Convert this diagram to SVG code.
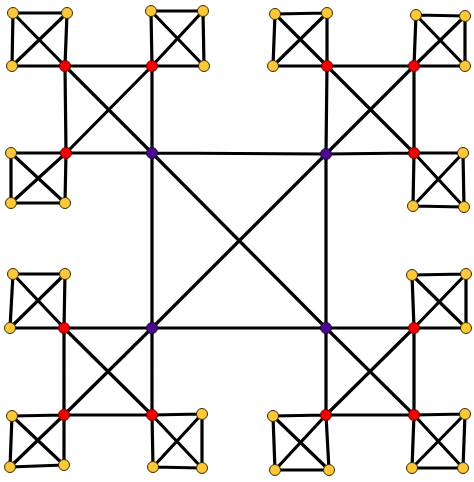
<svg xmlns="http://www.w3.org/2000/svg" width="474" height="482" viewBox="0 0 474 482">
<style>
.e{stroke:#000;stroke-width:3.2;stroke-linecap:round;fill:none}
.y{fill:#fcc83a;stroke:#3a2a00;stroke-width:1}
.r{fill:#f50000;stroke:#6a0000;stroke-width:1}
.p{fill:#4b0a8c;stroke:#200040;stroke-width:1}
</style>
<rect width="474" height="482" fill="#fff"/>
<g id="connectors" class="e">
<!-- central K4 -->
<path d="M152,153L326,154M152,153L152,328M326,154L326,328M152,328L326,328M152,153L326,328M326,154L152,328"/>
<!-- TL inner K4 -->
<path d="M65,66L152,66M65,66L66,153M152,66L152,153M66,153L152,153M65,66L152,153M152,66L66,153"/>
<!-- TL squares -->
<path d="M13,13L67,13M13,13L12,66M67,13L65,66M12,66L65,66M13,13L65,66M67,13L12,66"/>
<path d="M151,11L203,11M151,11L152,66M203,11L204,66M152,66L204,66M151,11L204,66M203,11L152,66"/>
<path d="M11,153L66,153M11,153L11,203M66,153L65,203M11,203L65,203M11,153L65,203M66,153L11,203"/>
<!-- TR inner K4 -->
<path d="M327,66L414,66M327,66L326,154M414,66L414,153M326,154L414,153M327,66L414,153M414,66L326,154"/>
<!-- TR squares -->
<path d="M275,14L327,13M275,14L273,66M327,13L327,66M273,66L327,66M275,14L327,66M327,13L273,66"/>
<path d="M416,15L465,16M416,15L414,66M465,16L465,66M414,66L465,66M416,15L465,66M465,16L414,66"/>
<path d="M414,153L463,153M414,153L413,206M463,153L464,207M413,206L464,207M414,153L464,207M463,153L413,206"/>
<!-- BL inner K4 -->
<path d="M64,328L152,328M64,328L64,415M152,328L152,415M64,415L152,415M64,328L152,415M152,328L64,415"/>
<!-- BL squares -->
<path d="M13,274L65,274M13,274L10,328M65,274L64,328M10,328L64,328M13,274L64,328M65,274L10,328"/>
<path d="M12,416L64,415M12,416L10,467M64,415L64,465M10,467L64,465M12,416L64,465M64,415L10,467"/>
<path d="M152,415L202,414M152,415L153,467M202,414L202,468M153,467L202,468M152,415L202,468M202,414L153,467"/>
<!-- BR inner K4 -->
<path d="M326,328L414,328M326,328L326,415M414,328L414,415M326,415L414,415M326,328L414,415M414,328L326,415"/>
<!-- BR squares -->
<path d="M412,275L466,274M412,275L414,328M466,274L466,328M414,328L466,328M412,275L466,328M466,274L414,328"/>
<path d="M273,416L326,415M273,416L275,470M326,415L329,470M275,470L329,470M273,416L329,470M326,415L275,470"/>
<path d="M414,415L465,414M414,415L412,468M465,414L463,468M412,468L463,468M414,415L463,468M465,414L412,468"/>
</g>
<g id="purple-nodes">
<circle id="p1" class="p" cx="152" cy="153" r="5.5"/>
<circle id="p2" class="p" cx="326" cy="154" r="5.5"/>
<circle id="p3" class="p" cx="152" cy="328" r="5.5"/>
<circle id="p4" class="p" cx="326" cy="328" r="5.5"/>
</g>
<g id="red-nodes">
<circle id="r1" class="r" cx="65" cy="66" r="5.5"/>
<circle id="r2" class="r" cx="152" cy="66" r="5.5"/>
<circle id="r3" class="r" cx="66" cy="153" r="5.5"/>
<circle id="r4" class="r" cx="327" cy="66" r="5.5"/>
<circle id="r5" class="r" cx="414" cy="66" r="5.5"/>
<circle id="r6" class="r" cx="414" cy="153" r="5.5"/>
<circle id="r7" class="r" cx="64" cy="328" r="5.5"/>
<circle id="r8" class="r" cx="64" cy="415" r="5.5"/>
<circle id="r9" class="r" cx="152" cy="415" r="5.5"/>
<circle id="r10" class="r" cx="414" cy="328" r="5.5"/>
<circle id="r11" class="r" cx="326" cy="415" r="5.5"/>
<circle id="r12" class="r" cx="414" cy="415" r="5.5"/>
</g>
<g id="yellow-nodes">
<circle id="y1" class="y" cx="13" cy="13" r="5.5"/>
<circle id="y2" class="y" cx="67" cy="13" r="5.5"/>
<circle id="y3" class="y" cx="12" cy="66" r="5.5"/>
<circle id="y4" class="y" cx="151" cy="11" r="5.5"/>
<circle id="y5" class="y" cx="203" cy="11" r="5.5"/>
<circle id="y6" class="y" cx="204" cy="66" r="5.5"/>
<circle id="y7" class="y" cx="11" cy="153" r="5.5"/>
<circle id="y8" class="y" cx="11" cy="203" r="5.5"/>
<circle id="y9" class="y" cx="65" cy="203" r="5.5"/>
<circle id="y10" class="y" cx="275" cy="14" r="5.5"/>
<circle id="y11" class="y" cx="327" cy="13" r="5.5"/>
<circle id="y12" class="y" cx="273" cy="66" r="5.5"/>
<circle id="y13" class="y" cx="416" cy="15" r="5.5"/>
<circle id="y14" class="y" cx="465" cy="16" r="5.5"/>
<circle id="y15" class="y" cx="465" cy="66" r="5.5"/>
<circle id="y16" class="y" cx="463" cy="153" r="5.5"/>
<circle id="y17" class="y" cx="413" cy="206" r="5.5"/>
<circle id="y18" class="y" cx="464" cy="207" r="5.5"/>
<circle id="y19" class="y" cx="13" cy="274" r="5.5"/>
<circle id="y20" class="y" cx="65" cy="274" r="5.5"/>
<circle id="y21" class="y" cx="10" cy="328" r="5.5"/>
<circle id="y22" class="y" cx="12" cy="416" r="5.5"/>
<circle id="y23" class="y" cx="10" cy="467" r="5.5"/>
<circle id="y24" class="y" cx="64" cy="465" r="5.5"/>
<circle id="y25" class="y" cx="202" cy="414" r="5.5"/>
<circle id="y26" class="y" cx="153" cy="467" r="5.5"/>
<circle id="y27" class="y" cx="202" cy="468" r="5.5"/>
<circle id="y28" class="y" cx="412" cy="275" r="5.5"/>
<circle id="y29" class="y" cx="466" cy="274" r="5.5"/>
<circle id="y30" class="y" cx="466" cy="328" r="5.5"/>
<circle id="y31" class="y" cx="273" cy="416" r="5.5"/>
<circle id="y32" class="y" cx="275" cy="470" r="5.5"/>
<circle id="y33" class="y" cx="329" cy="470" r="5.5"/>
<circle id="y34" class="y" cx="465" cy="414" r="5.5"/>
<circle id="y35" class="y" cx="412" cy="468" r="5.5"/>
<circle id="y36" class="y" cx="463" cy="468" r="5.5"/>
</g>
</svg>
